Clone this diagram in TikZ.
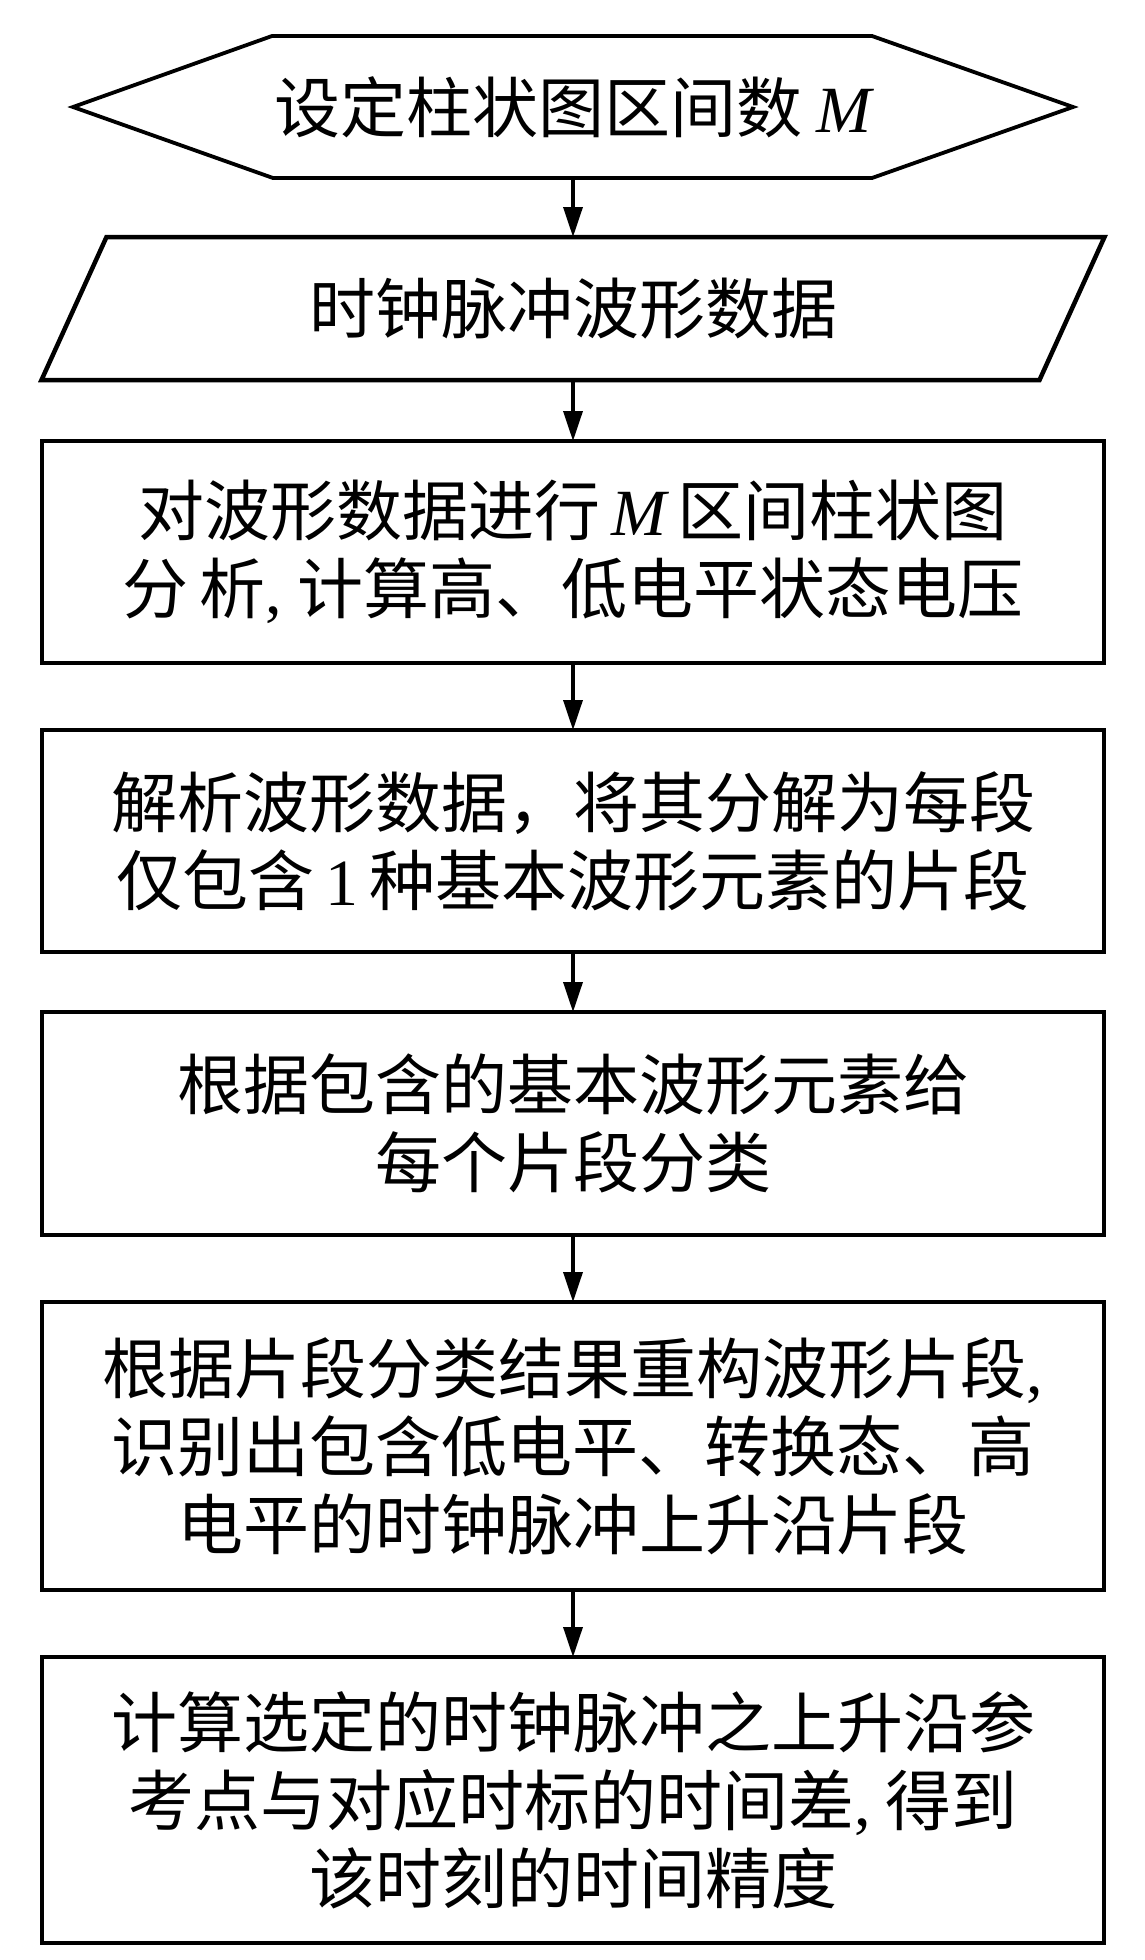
\documentclass[tikz,border=0pt]{standalone}
\usepackage{fontspec}
\setmainfont{Noto Sans CJK SC}
\newfontfamily\tnr{Liberation Serif}
\usetikzlibrary{arrows.meta,calc}
\newcommand\varM{{\tnr\itshape M}}
\newcommand\latcomma{{\tnr,}}
\begin{document}
\begin{tikzpicture}[x=1pt,y=-1pt,
  txt/.style={font=\fontsize{66}{78}\selectfont, align=center, inner sep=0pt, outer sep=0pt},
  procbox/.style={txt, rectangle, draw, line width=4.5pt, minimum width=1062pt},
  holder/.style={txt, rectangle},
  outline/.style={line width=4.5pt, line join=miter},
  flow/.style={line width=3.5pt, -{Triangle[length=30pt,width=19pt]}}
]
\useasboundingbox (0,0) rectangle (1145,1960);

% start hexagon
\node[holder, minimum width=1000pt, minimum height=142pt] (n1) at (573,107) {设定柱状图区间数 \varM};
\draw[outline, line width=3.8pt] (n1.west) -- ([xshift=199pt]n1.north west) -- ([xshift=-201pt]n1.north east)
  -- (n1.east) -- ([xshift=-201pt]n1.south east) -- ([xshift=200pt]n1.south west) -- cycle;

% input parallelogram
\node[holder, minimum width=1063pt, minimum height=143pt] (n2) at (573,308.5) {时钟脉冲波形数据};
\draw[outline] ([xshift=65pt]n2.north west) -- (n2.north east) -- ([xshift=-65pt]n2.south east)
  -- (n2.south west) -- cycle;

% process boxes
\node[procbox, minimum height=222pt] (n3) at (573,552)
  {对波形数据进行\,\varM\,区间柱状图\\分\,析\latcomma\ 计算高、低电平状态电压};
\node[procbox, minimum height=222pt] (n4) at (573,841)
  {解析波形数据，将其分解为每段\\仅包含\,{\tnr 1}\,种基本波形元素的片段};
\node[procbox, minimum height=223pt] (n5) at (573,1123.5)
  {根据包含的基本波形元素给\\每个片段分类};
\node[procbox, minimum height=288pt] (n6) at (573,1446)
  {根据片段分类结果重构波形片段\latcomma\\识别出包含低电平、转换态、高\\电平的时钟脉冲上升沿片段};
\node[procbox, minimum height=286pt] (n7) at (573,1800)
  {计算选定的时钟脉冲之上升沿参\\考点与对应时标的时间差\latcomma\ 得到\\该时刻的时间精度};

% connectors
\draw[flow] (n1.south) -- (n2.north);
\draw[flow] (n2.south) -- (n3.north);
\draw[flow] (n3.south) -- (n4.north);
\draw[flow] (n4.south) -- (n5.north);
\draw[flow] (n5.south) -- (n6.north);
\draw[flow] (n6.south) -- (n7.north);
\end{tikzpicture}
\end{document}
